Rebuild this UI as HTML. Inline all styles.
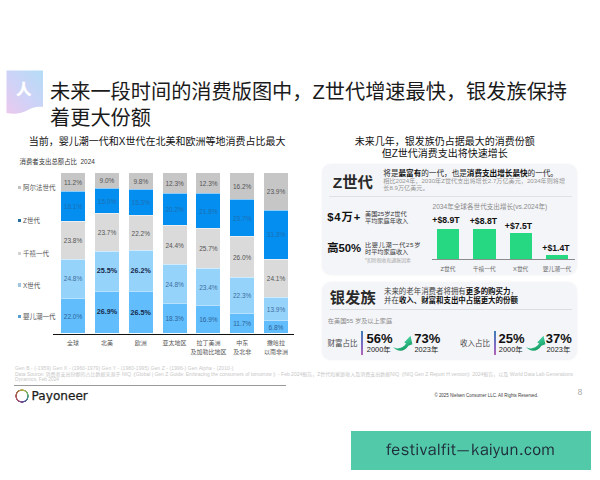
<!DOCTYPE html>
<html lang="zh-CN">
<head>
<meta charset="utf-8">
<style>
*{margin:0;padding:0;box-sizing:border-box}
html,body{width:600px;height:480px;overflow:hidden;background:#fff}
body{position:relative;font-family:"Liberation Sans","Noto Sans CJK SC",sans-serif;color:#222}
.a{position:absolute;white-space:nowrap}
.t{line-height:1}
#title{left:50px;top:80px;font-size:20.2px;line-height:25.6px;color:#1a1a1a}
#sub1{left:28.8px;top:136.2px;font-size:10px;line-height:12px;color:#111}
#hdr{left:19.5px;top:158px;font-size:6.4px;line-height:8px;color:#333}
.lg{left:18px;font-size:6.5px;line-height:8px;color:#555}
.lg i{display:inline-block;width:3.2px;height:3.2px;margin-right:1.8px;vertical-align:1px}
.col{position:absolute;top:173px;width:24px;height:160px;display:flex;flex-direction:column}
.col div{position:relative;display:flex;align-items:center;justify-content:center;font-size:6.5px;line-height:1;padding-top:2px;border-top:0.6px solid rgba(255,255,255,.55)}
.col div:first-child{border-top:none}
.s1{background:#c6c6c6;color:#555}
.s2{background:#048ef0;color:#1d6fb0}
.s3{background:#dadada;color:#555}
.s4{background:#96d3fa;color:#3d6e9e}
.s5{background:#61bdfb;color:#2f639a}
.b{font-weight:bold;color:#15294a!important;font-size:7.2px;position:relative;top:-1.3px}
#axis{left:53px;top:333.6px;width:241px;height:1.3px;background:#111}
.xl{font-size:6px;line-height:9px;color:#555;text-align:center;width:50px}
.panel{position:absolute;left:321.5px;width:255.3px;border-radius:9px;background:#f4f5f8;box-shadow:0 0 2.5px rgba(0,0,0,.05)}
.big{font-weight:bold;color:#2a2a2a}
.gbar{position:absolute;background:#27d882;top:auto}
.gv{font-size:8.7px;font-weight:bold;color:#111;text-align:center;width:40px;line-height:10px}
.gl{font-size:5.7px;color:#666;text-align:center;width:40px;line-height:8px}
.pct{font-size:13px;font-weight:bold;color:#111;line-height:13px}
.yr{font-size:7.4px;color:#222;line-height:8px}
.vb{position:absolute;width:2.2px;background:linear-gradient(#3a7cb4,#7a6cc4 55%,#b464b8)}
.ft{left:15px;font-size:5px;line-height:6px;color:#c8c8c8}
</style>
</head>
<body>

<!-- icon -->
<svg class="a" style="left:0;top:0" width="60" height="125" viewBox="0 0 60 125">
  <defs>
    <linearGradient id="ig" x1="1" y1="0" x2="0" y2="1">
      <stop offset="0" stop-color="#b4dcf6"/>
      <stop offset="0.55" stop-color="#cfd2f6"/>
      <stop offset="1" stop-color="#ecc8ee"/>
    </linearGradient>
  </defs>
  <path d="M6.5 70.5 H43 V107 C37 106 32 107.5 27 110.5 C22 113.5 15 114.5 6.5 113 Z" fill="url(#ig)"/>
  <text x="23.8" y="94.5" font-size="15" font-weight="bold" fill="#fff" stroke="#fff" stroke-width="0.5" text-anchor="middle" font-family="Noto Sans CJK SC, sans-serif">人</text>
</svg>

<div id="title" class="a">未来一段时间的消费版图中，Z世代增速最快，银发族保持<br>着更大份额</div>

<div id="sub1" class="a">当前，婴儿潮一代和X世代在北美和欧洲等地消费占比最大</div>
<div id="hdr" class="a">消费者支出总额占比&nbsp;&nbsp;2024</div>

<div class="a lg" style="top:183.8px"><i style="background:#c2c2c2"></i>阿尔法世代</div>
<div class="a lg" style="top:217.2px"><i style="background:#22709f"></i>Z世代</div>
<div class="a lg" style="top:250.2px"><i style="background:#d4d4d4"></i>千禧一代</div>
<div class="a lg" style="top:281.5px"><i style="background:#a0c6e2"></i>X世代</div>
<div class="a lg" style="top:313px"><i style="background:#5a9fd2"></i>婴儿潮一代</div>

<!-- stacked bars -->
<div class="col" style="left:61px">
  <div class="s1" style="flex:11.2">11.2%</div><div class="s2" style="flex:18.1">18.1%</div><div class="s3" style="flex:23.8">23.8%</div><div class="s4" style="flex:24.8">24.8%</div><div class="s5" style="flex:22.0">22.0%</div>
</div>
<div class="col" style="left:95px">
  <div class="s1" style="flex:9.0">9.0%</div><div class="s2" style="flex:15.0">15.0%</div><div class="s3" style="flex:23.7">23.7%</div><div class="s4" style="flex:25.5"><span class="b">25.5%</span></div><div class="s5" style="flex:26.9"><span class="b">26.9%</span></div>
</div>
<div class="col" style="left:128.8px">
  <div class="s1" style="flex:9.8">9.8%</div><div class="s2" style="flex:15.3">15.3%</div><div class="s3" style="flex:22.2">22.2%</div><div class="s4" style="flex:26.2"><span class="b">26.2%</span></div><div class="s5" style="flex:26.5"><span class="b">26.5%</span></div>
</div>
<div class="col" style="left:162.6px">
  <div class="s1" style="flex:12.3">12.3%</div><div class="s2" style="flex:20.2">20.2%</div><div class="s3" style="flex:24.4">24.4%</div><div class="s4" style="flex:24.8">24.8%</div><div class="s5" style="flex:18.3">18.3%</div>
</div>
<div class="col" style="left:196.4px">
  <div class="s1" style="flex:12.3">12.3%</div><div class="s2" style="flex:21.8">21.8%</div><div class="s3" style="flex:25.7">25.7%</div><div class="s4" style="flex:23.4">23.4%</div><div class="s5" style="flex:16.9">16.9%</div>
</div>
<div class="col" style="left:230.2px">
  <div class="s1" style="flex:16.2">16.2%</div><div class="s2" style="flex:23.7">23.7%</div><div class="s3" style="flex:26.0">26.0%</div><div class="s4" style="flex:22.3">22.3%</div><div class="s5" style="flex:11.7">11.7%</div>
</div>
<div class="col" style="left:264px">
  <div class="s1" style="flex:23.9">23.9%</div><div class="s2" style="flex:31.3">31.3%</div><div class="s3" style="flex:24.1">24.1%</div><div class="s4" style="flex:13.9">13.9%</div><div class="s5" style="flex:6.8">6.8%</div>
</div>
<div id="axis" class="a"></div>

<div class="a xl" style="left:48px;top:338.5px">全球</div>
<div class="a xl" style="left:82px;top:338.5px">北美</div>
<div class="a xl" style="left:115.8px;top:338.5px">欧洲</div>
<div class="a xl" style="left:149.6px;top:338.5px">亚太地区</div>
<div class="a xl" style="left:183.4px;top:338.5px">拉丁美洲<br>及加勒比地区</div>
<div class="a xl" style="left:217.2px;top:338.5px">中东<br>及北非</div>
<div class="a xl" style="left:251px;top:338.5px">撒哈拉<br>以南非洲</div>

<!-- right side -->
<div class="a" style="left:344.8px;top:136.3px;font-size:10px;line-height:11.7px;color:#111;text-align:center;width:200px">未来几年，银发族仍占据最大的消费份额<br>但Z世代消费支出将快速增长</div>

<div class="panel" style="top:163.5px;height:111.5px"></div>
<div class="panel" style="top:282.3px;height:77.8px"></div>

<div class="a big" style="left:332.8px;top:173.5px;font-size:15.4px;line-height:17px">Z世代</div>
<div class="a" style="left:383.3px;top:168.5px;font-size:7.6px;line-height:9px;color:#2a2a2a">将是<b style="color:#111">最富有</b>的一代，也是<b style="color:#111">消费支出增长最快</b>的一代。</div>
<div class="a" style="left:383.3px;top:177.3px;font-size:6.13px;line-height:7px;color:#959595">相比2024年，2030年Z世代支出将增长2.7万亿美元，2034年则将增<br>长8.9万亿美元。</div>
<div class="a" style="left:329px;top:196px;width:243px;height:0.8px;background:#e0e1e4"></div>

<div class="a" style="left:327.2px;top:210.5px;font-size:11.3px;line-height:13px;font-weight:bold;color:#111;letter-spacing:0.9px">$4万+</div>
<div class="a" style="left:365px;top:209.5px;font-size:6.2px;line-height:7.5px;color:#383838">美国25岁Z世代<br>平均家庭年收入</div>
<div class="a" style="left:327.2px;top:241.5px;font-size:11.3px;line-height:13px;font-weight:bold;color:#111">高50%</div>
<div class="a" style="left:365px;top:241px;font-size:6.2px;line-height:7.2px;color:#383838"><span style="letter-spacing:0.65px">比婴儿潮一代25岁</span><br>时平均家庭收入</div>
<div class="a" style="left:365px;top:258px;font-size:4.9px;line-height:5px;color:#a8a8a8">*扣除税收和通胀因素</div>

<div class="a" style="left:432.5px;top:203px;font-size:6.6px;line-height:7.5px;color:#8a8a8a">2034年全球各世代支出增长(vs.2024年)</div>
<div class="a gbar" style="left:437px;top:228.6px;width:22.3px;height:30.9px"></div>
<div class="a gbar" style="left:473px;top:228.8px;width:22.7px;height:30.7px"></div>
<div class="a gbar" style="left:509.5px;top:233.3px;width:22.5px;height:26.2px"></div>
<div class="a gbar" style="left:545.8px;top:254.5px;width:22.2px;height:5px"></div>
<div class="a" style="left:432px;top:259.3px;width:143px;height:1.1px;background:#8c8c8c"></div>
<div class="a gv" style="left:426px;top:215.2px">+$8.9T</div>
<div class="a gv" style="left:463.4px;top:215.7px">+$8.8T</div>
<div class="a gv" style="left:498.5px;top:221.2px">+$7.5T</div>
<div class="a gv" style="left:536px;top:243.2px">+$1.4T</div>
<div class="a gl" style="left:428px;top:265.3px">Z世代</div>
<div class="a gl" style="left:464.3px;top:265.3px">千禧一代</div>
<div class="a gl" style="left:500.7px;top:265.3px">X世代</div>
<div class="a gl" style="left:537px;top:265.3px">婴儿潮一代</div>

<div class="a big" style="left:329.8px;top:289px;font-size:15.3px;line-height:17px">银发族</div>
<div class="a" style="left:384px;top:286.5px;font-size:7.45px;line-height:9px;color:#444">未来的老年消费者将拥有<b style="color:#111">更多的购买力</b>，<br>并在<b style="color:#111">收入、财富和支出中占据更大的份额</b></div>
<div class="a" style="left:330px;top:309px;width:242px;height:0.8px;background:#dcdde0"></div>
<div class="a" style="left:327.8px;top:316.8px;font-size:6.2px;line-height:7px;color:#8a8a8a">在美国55 岁及以上家庭</div>

<div class="a" style="left:327.5px;top:339px;font-size:7.5px;line-height:9px;color:#4a4a4a">财富占比</div>
<div class="vb" style="left:361.1px;top:330.7px;height:24px"></div>
<div class="a pct" style="left:366.6px;top:332px">56%</div>
<div class="a yr" style="left:366.8px;top:346.3px">2000年</div>
<div class="a pct" style="left:414.3px;top:332px">73%</div>
<div class="a yr" style="left:414.5px;top:346.3px">2023年</div>

<div class="a" style="left:460px;top:339px;font-size:7.5px;line-height:9px;color:#4a4a4a">收入占比</div>
<div class="vb" style="left:494px;top:330.8px;height:24px"></div>
<div class="a pct" style="left:498.6px;top:332px">25%</div>
<div class="a yr" style="left:498.8px;top:346.3px">2000年</div>
<div class="a pct" style="left:545.8px;top:332px">37%</div>
<div class="a yr" style="left:546.5px;top:346.3px">2023年</div>

<svg class="a" style="left:0;top:0" width="600" height="480" viewBox="0 0 600 480">
  <defs>
    <linearGradient id="ag" x1="0" y1="0" x2="0.6" y2="1">
      <stop offset="0" stop-color="#7ee6bb"/>
      <stop offset="0.5" stop-color="#3cc995"/>
      <stop offset="1" stop-color="#12975f"/>
    </linearGradient>
  </defs>
  <g><path d="M393 347 C397 351.8 404.2 352.6 408.4 345.8 L412.4 344.3 L410.5 335.8 L404.2 342.5 L406.2 343.5 C402.4 348.6 397 349.6 393 347 Z" fill="url(#ag)"/></g>
  <path transform="translate(133,0)" d="M393 347 C397 351.8 404.2 352.6 408.4 345.8 L412.4 344.3 L410.5 335.8 L404.2 342.5 L406.2 343.5 C402.4 348.6 397 349.6 393 347 Z" fill="url(#ag)"/>
</svg>

<!-- footer -->
<div class="a ft" style="top:364.5px;letter-spacing:0.09px">Gen B - (-1959) Gen X - (1960-1979) Gen Y - (1980-1995) Gen Z - (1996-) Gen Alpha - (2010-)</div>
<div class="a ft" style="top:370.5px">Data Source: 消费者支出份额的占比数据来源于 NIQ《Global | Gen Z Guide: Embracing the consumers of tomorrow 》- Feb 2024报告，Z世代和家庭收入及消费支出数据NIQ《NIQ Gen Z Report H version》2024报告，以及 World Data Lab Generations</div>
<div class="a ft" style="top:376.5px;font-size:4.8px">Dynamics, Feb 2024</div>
<div class="a" style="left:14px;top:384.8px;width:272px;height:1px;background:#999"></div>

<div class="a" style="left:14px;top:387.8px;width:16px;height:16px;border-radius:50%;background:conic-gradient(from 0deg,#b8b048 0deg,#6cb26a 70deg,#3f8f8a 110deg,#5a4c98 160deg,#8a4a86 200deg,#b05a6a 240deg,#a0604c 290deg,#a87a46 330deg,#b8b048 360deg);-webkit-mask:radial-gradient(circle,transparent 5.0px,#000 5.4px,#000 6.5px,transparent 6.9px);mask:radial-gradient(circle,transparent 5.0px,#000 5.4px,#000 6.5px,transparent 6.9px)"></div>
<div class="a" style="left:31.6px;top:388.6px;font-family:'DejaVu Sans',sans-serif;font-size:12.1px;line-height:14px;color:#1c1c1c;-webkit-text-stroke:0.25px #1c1c1c">Payoneer</div>
<div class="a" style="left:434.4px;top:393px;font-size:4.45px;line-height:6px;color:#3a3a3a">© 2025 Nielsen Consumer LLC. All Rights Reserved.</div>
<div class="a" style="left:577.8px;top:388.9px;font-size:8.2px;line-height:8px;color:#a8a8a8">8</div>

<!-- watermark -->
<div class="a" style="left:351px;top:431.3px;width:239.5px;height:38.4px;background:#52c9a8"></div>
<div class="a" style="left:386px;top:439.8px;font-family:'WenQuanYi Zen Hei',sans-serif;font-size:16.5px;line-height:20px;color:#1f2d3b"><span style="letter-spacing:0.42px">festivalfit</span><span style="display:inline-block;width:14.6px;text-align:center"><span style="display:inline-block;margin-left:3.8px;transform:scaleX(3.3)">-</span></span><span style="letter-spacing:0.3px">kaiyun.com</span></div>

</body>
</html>
